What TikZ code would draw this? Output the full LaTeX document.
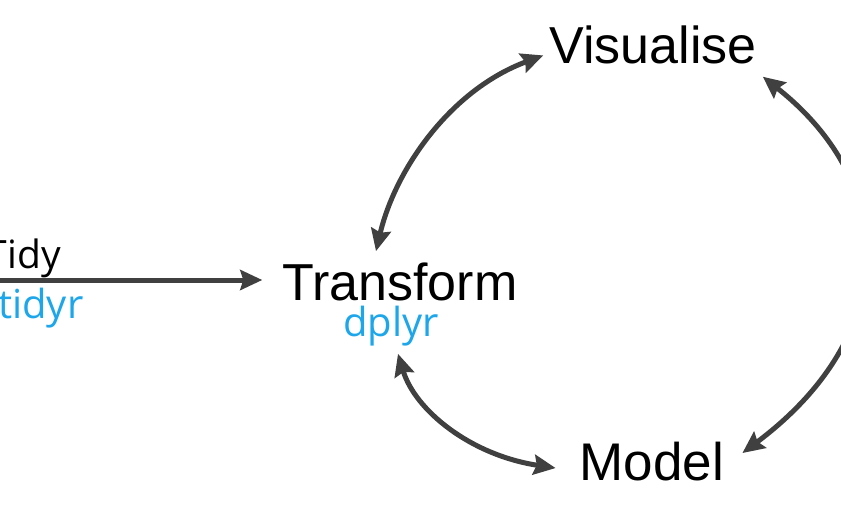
\documentclass[tikz,border=0pt]{standalone}
\usepackage{fontspec}
\setmainfont{Liberation Sans}
\newfontfamily\pkgfont{Open Sans}
\usepackage{xcolor}
\usetikzlibrary{arrows.meta,positioning}
\definecolor{arrgray}{HTML}{404040}
\definecolor{pkgblue}{HTML}{1DA6EA}

\begin{document}
\begin{tikzpicture}[x=1pt,y=-1pt,>={Stealth[length=22pt,width=20pt,inset=3pt]},
  stage/.style={inner sep=0pt,font=\fontsize{52}{52}\selectfont},
  pkg/.style={inner sep=0pt,text=pkgblue,font=\pkgfont\fontsize{40}{40}\selectfont},
  lbl/.style={inner sep=0pt,font=\pkgfont\fontsize{39}{39}\selectfont},
  arr/.style={draw=arrgray,line width=5pt,<->}]
\useasboundingbox (0,0) rectangle (841,522);
\clip (0,0) rectangle (841,522);
% the three steps of the loop
\node[stage,anchor=base] (vis) at (653,63) {Visualise};
\node[stage,anchor=base] (trans) at (400,300) {Transform};
\node[pkg,anchor=base] (dplyr) at (391,336) {dplyr};
\node[stage,anchor=base,font=\fontsize{53}{53}\selectfont] (model) at (652,480) {Model};
% tidy comes in from the left
\node[lbl,anchor=base east] (tidy) at (61,268) {Tidy};
\node[pkg,anchor=base west] (tidyr) at (-2,318) {tidyr};
\coordinate (tidystart) at (-5,280);
\draw[draw=arrgray,line width=5pt,->] (tidystart) -- ([xshift=-20pt]trans.west |- tidystart);
% loop connectors
\draw[arr] ([shift={(-24,-11)}]trans.north) .. controls (395,170) and (450,90) .. ([shift={(-6,11)}]vis.west);
\draw[arr] ([shift={(7,8)}]dplyr.south) .. controls (415,410) and (470,455) .. ([shift={(-24,7)}]model.west);
\draw[arr] ([shift={(6,13)}]vis.south east) .. controls (900,185) and (900,335) .. ([shift={(18,-8)}]model.east);
\end{tikzpicture}
\end{document}
